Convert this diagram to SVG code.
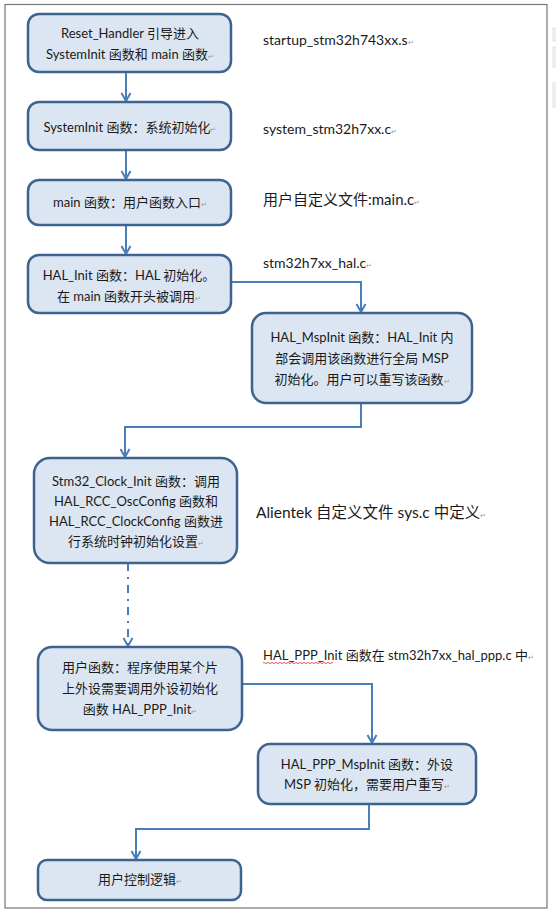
<svg xmlns="http://www.w3.org/2000/svg" width="556" height="915" viewBox="0 0 556 915">
<defs>
<style>
.box{fill:#dce6f2;stroke:#3d6391;stroke-width:2.5}
.t{font-family:Lato,"Noto Sans CJK SC",sans-serif;font-size:13px;fill:#1a1a1a;text-anchor:middle}
.lbl{font-family:Lato,"Noto Sans CJK SC",sans-serif;font-size:14px;fill:#1a1a1a}
.pm{font-size:7px;fill:#999}
.c{fill:none;stroke:#4a7ebb;stroke-width:2}
</style>
<marker id="ah" viewBox="0 0 12 12" refX="10" refY="6" markerWidth="12" markerHeight="12" markerUnits="userSpaceOnUse" orient="auto">
<path d="M2,1.5 L10,6 L2,10.5" fill="none" stroke="#4a7ebb" stroke-width="2"/>
</marker>
</defs>
<rect x="0" y="0" width="556" height="915" fill="#ffffff"/>
<rect x="5" y="4.5" width="542" height="903.5" fill="none" stroke="#777" stroke-width="1.2"/>
<g fill="#f0f0f0" stroke="#ddd" stroke-width="0.8">
<rect x="553" y="28" width="4" height="13"/>
<rect x="553" y="47" width="4" height="20"/>
<rect x="553" y="83" width="4" height="24"/>
</g>

<g id="connectors">
<path class="c" d="M126,72 V101" marker-end="url(#ah)"/>
<path class="c" d="M126,150 V179" marker-end="url(#ah)"/>
<path class="c" d="M126,225 V254" marker-end="url(#ah)"/>
<path class="c" d="M231,282 H361 V312" marker-end="url(#ah)"/>
<path class="c" d="M361,403 V427 H125 V457" marker-end="url(#ah)"/>
<path class="c" d="M128,563 V646" stroke-dasharray="8 6 2 6" marker-end="url(#ah)"/>
<path class="c" d="M242,684 H372 V743" marker-end="url(#ah)"/>
<path class="c" d="M369,804 V829 H136 V859" marker-end="url(#ah)"/>
</g>

<g id="n1">
<rect class="box" x="28" y="14" width="203" height="58" rx="11"/>
<text class="t" x="130" y="38">Reset_Handler 引导进入</text>
<text class="t" x="130" y="59">SystemInit 函数和 main 函数<tspan class="pm">↵</tspan></text>
</g>
<g id="n2">
<rect class="box" x="28" y="102" width="203" height="48" rx="11"/>
<text class="t" x="130" y="132">SystemInit 函数：系统初始化<tspan class="pm">↵</tspan></text>
</g>
<g id="n3">
<rect class="box" x="28" y="180" width="203" height="45" rx="11"/>
<text class="t" x="130" y="207">main 函数：用户函数入口<tspan class="pm">↵</tspan></text>
</g>
<g id="n4">
<rect class="box" x="28" y="255" width="203" height="58" rx="11"/>
<text class="t" x="129" y="280">HAL_Init 函数：HAL 初始化。</text>
<text class="t" x="129" y="301">在 main 函数开头被调用<tspan class="pm">↵</tspan></text>
</g>
<g id="n5">
<rect class="box" x="252" y="313" width="220" height="90" rx="14"/>
<text class="t" x="362" y="342">HAL_MspInit 函数：HAL_Init 内</text>
<text class="t" x="362" y="363">部会调用该函数进行全局 MSP</text>
<text class="t" x="362" y="384">初始化。用户可以重写该函数<tspan class="pm">↵</tspan></text>
</g>
<g id="n6">
<rect class="box" x="34" y="458" width="203" height="105" rx="16"/>
<text class="t" x="136" y="486">Stm32_Clock_Init 函数：调用</text>
<text class="t" x="136" y="506">HAL_RCC_OscConfig 函数和</text>
<text class="t" x="136" y="526">HAL_RCC_ClockConfig 函数进</text>
<text class="t" x="136" y="546">行系统时钟初始化设置<tspan class="pm">↵</tspan></text>
</g>
<g id="n7">
<rect class="box" x="38" y="647" width="204" height="83" rx="14"/>
<text class="t" x="140" y="672">用户函数：程序使用某个片</text>
<text class="t" x="140" y="693">上外设需要调用外设初始化</text>
<text class="t" x="140" y="714">函数 HAL_PPP_Init<tspan class="pm">↵</tspan></text>
</g>
<g id="n8">
<rect class="box" x="258" y="744" width="218" height="60" rx="12"/>
<text class="t" x="367" y="769">HAL_PPP_MspInit 函数：外设</text>
<text class="t" x="367" y="789">MSP 初始化，需要用户重写<tspan class="pm">↵</tspan></text>
</g>
<g id="n9">
<rect class="box" x="38" y="860" width="203" height="40" rx="9"/>
<text class="t" x="140" y="884">用户控制逻辑<tspan class="pm">↵</tspan></text>
</g>

<g id="labels">
<text class="lbl" x="263" y="45">startup_stm32h743xx.s<tspan class="pm">↵</tspan></text>
<text class="lbl" x="263" y="134">system_stm32h7xx.c<tspan class="pm">↵</tspan></text>
<text class="lbl" x="263" y="205" style="font-size:15px">用户自定义文件:main.c<tspan class="pm">↵</tspan></text>
<text class="lbl" x="263" y="268">stm32h7xx_hal.c<tspan class="pm">↵</tspan></text>
<text class="lbl" x="256" y="518" style="font-size:15.5px">Alientek 自定义文件 sys.c 中定义<tspan class="pm">↵</tspan></text>
<text class="lbl" x="263" y="660" style="font-size:13px">HAL_PPP_Init 函数在 stm32h7xx_hal_ppp.c 中<tspan class="pm">↵</tspan></text>
<path d="M263,663 q1,-1.2 2,0 t2,0 t2,0 t2,0 t2,0 t2,0 t2,0 t2,0 t2,0 t2,0 t2,0 t2,0 t2,0 t2,0 t2,0 t2,0 t2,0 t2,0 t2,0 t2,0 t2,0 t2,0 t2,0 t2,0 t2,0 t2,0 t2,0 t2,0 t2,0 t2,0 t2,0 t2,0 t2,0 t2,0 t2,0" fill="none" stroke="#e03030" stroke-width="0.8"/>
</g>
</svg>
